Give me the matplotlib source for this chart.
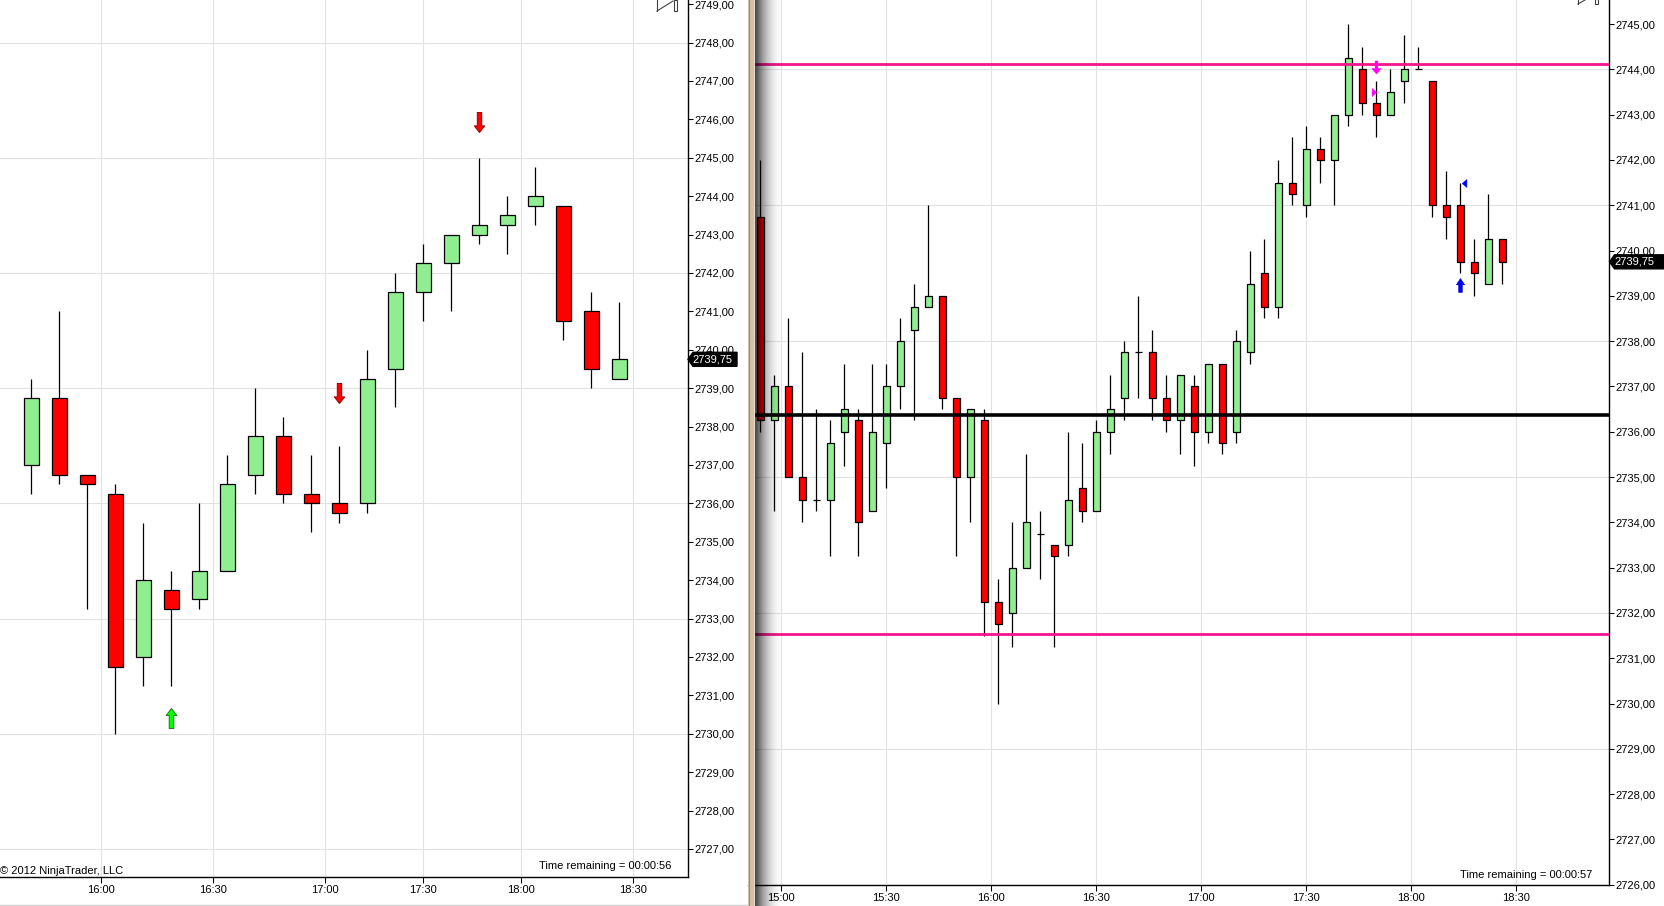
import matplotlib
matplotlib.use('Agg')
import matplotlib.pyplot as plt
import numpy as np
from matplotlib.path import Path
from matplotlib.patches import Rectangle, Polygon
from matplotlib.lines import Line2D
from matplotlib.transforms import IdentityTransform

plt.rcParams['font.family'] = ['Liberation Sans', 'DejaVu Sans']

# ---------------- data ----------------
left_open = [2737.0, 2738.75, 2736.75, 2736.25, 2732.0, 2733.75, 2733.5, 2734.25, 2736.75, 2737.75, 2736.25,
             2736.0, 2736.0, 2739.5, 2741.5, 2742.25, 2743.0, 2743.25, 2743.75, 2743.75, 2741.0, 2739.25]
left_high = [2739.25, 2741.0, 2736.75, 2736.5, 2735.5, 2734.25, 2736.0, 2737.25, 2739.0, 2738.25, 2737.25,
             2737.5, 2740.0, 2742.0, 2742.75, 2743.0, 2745.0, 2744.0, 2744.75, 2743.75, 2741.5, 2741.25]
left_low = [2736.25, 2736.5, 2733.25, 2730.0, 2731.25, 2731.25, 2733.25, 2734.25, 2736.25, 2736.0, 2735.25,
            2735.5, 2735.75, 2738.5, 2740.75, 2741.0, 2742.75, 2742.5, 2743.25, 2740.25, 2739.0, 2739.25]
left_close = [2738.75, 2736.75, 2736.5, 2731.75, 2734.0, 2733.25, 2734.25, 2736.5, 2737.75, 2736.25, 2736.0,
              2735.75, 2739.25, 2741.5, 2742.25, 2743.0, 2743.25, 2743.5, 2744.0, 2740.75, 2739.5, 2739.75]

right_open = [2740.75, 2736.25, 2737.0, 2735.0, 2734.5, 2734.5, 2736.0, 2736.25, 2734.25, 2735.75,
              2737.0, 2738.25, 2738.75, 2739.0, 2736.75, 2735.0, 2736.25, 2732.25, 2732.0, 2733.0,
              2733.75, 2733.5, 2733.5, 2734.75, 2734.25, 2736.0, 2736.75, 2737.75, 2737.75, 2736.75,
              2736.25, 2737.0, 2736.0, 2737.5, 2736.0, 2737.75, 2739.5, 2738.75, 2741.5, 2741.0,
              2742.25, 2742.0, 2743.0, 2744.0, 2743.25, 2743.0, 2743.75, 2744.0, 2743.75, 2741.0,
              2741.0, 2739.75, 2739.25, 2740.25]
right_high = [2742.0, 2737.25, 2738.5, 2737.75, 2736.5, 2736.25, 2737.5, 2736.5, 2737.5, 2737.5,
              2738.5, 2739.25, 2741.0, 2739.0, 2736.75, 2736.5, 2736.5, 2732.75, 2734.0, 2735.5,
              2734.25, 2733.5, 2736.0, 2735.75, 2736.25, 2737.25, 2738.0, 2739.0, 2738.25, 2737.25,
              2737.25, 2737.25, 2737.5, 2737.5, 2738.25, 2740.0, 2740.25, 2742.0, 2742.5, 2742.75,
              2742.5, 2743.0, 2745.0, 2744.5, 2743.75, 2744.0, 2744.75, 2744.5, 2743.75, 2741.75,
              2741.5, 2740.25, 2741.25, 2740.25]
right_low = [2736.0, 2734.25, 2735.0, 2734.0, 2734.25, 2733.25, 2735.25, 2733.25, 2734.25, 2734.75,
             2736.5, 2736.25, 2738.75, 2736.5, 2733.25, 2734.0, 2731.5, 2730.0, 2731.25, 2733.0,
             2732.75, 2731.25, 2733.25, 2734.0, 2734.25, 2735.5, 2736.25, 2736.75, 2736.25, 2736.0,
             2735.5, 2735.25, 2735.75, 2735.5, 2735.75, 2737.5, 2738.5, 2738.5, 2741.0, 2740.75,
             2741.5, 2741.0, 2742.75, 2743.0, 2742.5, 2743.0, 2743.25, 2744.0, 2740.75, 2740.25,
             2739.5, 2739.0, 2739.25, 2739.25]
right_close = [2736.25, 2737.0, 2735.0, 2734.5, 2734.5, 2735.75, 2736.5, 2734.0, 2736.0, 2737.0,
               2738.0, 2738.75, 2739.0, 2736.75, 2735.0, 2736.5, 2732.25, 2731.75, 2733.0, 2734.0,
               2733.75, 2733.25, 2734.5, 2734.25, 2736.0, 2736.5, 2737.75, 2737.75, 2736.75, 2736.25,
               2737.25, 2736.0, 2737.5, 2735.75, 2738.0, 2739.25, 2738.75, 2741.5, 2741.25, 2742.25,
               2742.0, 2743.0, 2744.25, 2743.25, 2743.0, 2743.5, 2744.0, 2744.0, 2741.0, 2740.75,
               2739.75, 2739.5, 2740.25, 2739.75]

left_tick_pos = [2.49, 6.49, 10.49, 13.99, 17.49, 21.49]
left_tick_labels = ['16:00', '16:30', '17:00', '17:30', '18:00', '18:30']
right_tick_pos = [1.5, 9.0, 16.5, 24.0, 31.5, 39.0, 46.5, 54.0]
right_tick_labels = ['15:00', '15:30', '16:00', '16:30', '17:00', '17:30', '18:00', '18:30']

left_yticks = list(range(2727, 2750))
left_ygrid = list(range(2727, 2750, 3))
right_yticks = list(range(2726, 2746))
right_ygrid = list(range(2726, 2746, 3))

right_hlines_pink = [2744.11, 2731.53]
right_hline_black = 2736.36
last_price = 2739.75

# signal markers (bar index, price)
left_up_green = (5, 2730.41)
left_down_red = [(11, 2738.87), (16, 2745.94)]
right_down_magenta = (44, 2744.06)
right_tri_magenta = (43.82, 2743.49)
right_up_blue = (50, 2739.24)
right_tri_blue = (50.26, 2741.49)

FS = 8.0

# ---------------- figure ----------------
W, H = 1664, 906
fig = plt.figure(figsize=(W / 100, H / 100), dpi=100)
fig.patch.set_facecolor('white')

axL = fig.add_axes([0, (H - 877.3) / H, 687.7 / W, 877.3 / H])
axR = fig.add_axes([748 / W, (H - 885.3) / H, (1608.5 - 748) / W, 885.3 / H])

GREEN = '#90EE90'
RED = '#FF0000'
GRID = '#E2E2E2'


def draw_candles(ax, o, h, l, c, width):
    o = np.array(o); h = np.array(h); l = np.array(l); c = np.array(c)
    x = np.arange(len(o))
    ax.vlines(x, l, h, color='black', lw=0.9, zorder=2)
    up = c > o
    dn = c < o
    dj = c == o
    ax.bar(x[up], (c - o)[up], bottom=o[up], width=width, color=GREEN,
           edgecolor='black', lw=0.9, zorder=3)
    ax.bar(x[dn], (o - c)[dn], bottom=c[dn], width=width, color=RED,
           edgecolor='black', lw=0.9, zorder=3)
    ax.hlines(c[dj], x[dj] - width / 2, x[dj] + width / 2, color='black', lw=0.9, zorder=3)


def style_axis(ax, yticks, ygrid, xticks, xlabels, xlim, ylim, xpad):
    ax.set_xlim(*xlim)
    ax.set_ylim(*ylim)
    for g in ygrid:
        ax.axhline(g, color=GRID, lw=0.8, zorder=0)
    for g in xticks:
        ax.axvline(g, color=GRID, lw=0.8, zorder=0)
    ax.yaxis.tick_right()
    ax.set_yticks(yticks)
    ax.set_yticklabels([f"{v:.2f}".replace('.', ',') for v in yticks])
    ax.set_xticks(xticks)
    ax.set_xticklabels(xlabels)
    ax.tick_params(axis='y', direction='out', length=3.8, width=0.75, pad=1.2,
                   labelsize=FS, colors='black')
    ax.tick_params(axis='x', direction='out', length=4.0, width=0.75, pad=xpad,
                   labelsize=FS, colors='black')
    for s in ['left', 'top']:
        ax.spines[s].set_visible(False)
    for s in ['right', 'bottom']:
        ax.spines[s].set_linewidth(1.0)
        ax.spines[s].set_color('black')
    ax.set_facecolor('white')


draw_candles(axL, left_open, left_high, left_low, left_close, 0.55)
style_axis(axL, left_yticks, left_ygrid, left_tick_pos, left_tick_labels,
           (-31.3 / 28, (687.7 - 31.3) / 28),
           (2746 - (877.3 - 119.3) / 38.4, 2746 + 119.3 / 38.4), 1.3)

draw_candles(axR, right_open, right_high, right_low, right_close, 0.5)
style_axis(axR, right_yticks, right_ygrid, right_tick_pos, right_tick_labels,
           ((748 - 760.3) / 14, (1608.5 - 760.3) / 14),
           (2745 - (885.3 - 24) / 45.3, 2745 + 24 / 45.3), 1.6)

for v in right_hlines_pink:
    axR.axhline(v, color='#F5148C', lw=2.0, zorder=4)
axR.axhline(right_hline_black, color='black', lw=2.6, zorder=4)


# ---------------- markers ----------------
def arrow(hw, sw, hh, down=False):
    verts = [(-sw, -0.5), (sw, -0.5), (sw, 0.5 - hh), (hw, 0.5 - hh), (0, 0.5),
             (-hw, 0.5 - hh), (-sw, 0.5 - hh), (-sw, -0.5)]
    if down:
        verts = [(x, -y) for x, y in verts]
    codes = [Path.MOVETO] + [Path.LINETO] * 6 + [Path.CLOSEPOLY]
    return Path(verts, codes)


def tri(right=True):
    if right:
        verts = [(-0.3, -0.5), (0.3, 0.0), (-0.3, 0.5), (-0.3, -0.5)]
    else:
        verts = [(0.3, -0.5), (-0.3, 0.0), (0.3, 0.5), (0.3, -0.5)]
    return Path(verts, [Path.MOVETO, Path.LINETO, Path.LINETO, Path.CLOSEPOLY])


up_big = arrow(0.27, 0.115, 0.35)
dn_big = arrow(0.26, 0.11, 0.33, down=True)
axL.plot(*left_up_green, marker=up_big, ms=14.4, mfc='#00FF00', mec='#1E7A1E', mew=0.7,
         ls='none', zorder=5)
for (xx, yy) in left_down_red:
    axL.plot(xx, yy, marker=dn_big, ms=14.4, mfc='#FF0000', mec='#9A0000', mew=0.7,
             ls='none', zorder=5)

axR.plot(*right_down_magenta, marker=arrow(0.36, 0.11, 0.42, down=True), ms=9.4,
         mfc='#FF00FF', mec='#FF00FF', mew=0.3, ls='none', zorder=5)
axR.plot(*right_tri_magenta, marker=tri(True), ms=5.8, mfc='#FF00FF', mec='#FF00FF',
         mew=0.3, ls='none', zorder=5)
axR.plot(*right_up_blue, marker=arrow(0.3, 0.13, 0.45), ms=10.0, mfc='#0000FF',
         mec='#0000C8', mew=0.4, ls='none', zorder=5)
axR.plot(*right_tri_blue, marker=tri(False), ms=5.8, mfc='#0000FF', mec='#0000FF',
         mew=0.3, ls='none', zorder=5)


# ---------------- price labels ----------------
def price_tag(ax, price, x_tip, x_end, text_x):
    yd = ax.transData.transform((0, price))[1]
    hh = 7
    poly = Polygon([(x_tip, yd), (x_tip + 5, yd + hh), (x_end, yd + hh),
                    (x_end, yd - hh), (x_tip + 5, yd - hh)], closed=True,
                   facecolor='black', edgecolor='black', transform=IdentityTransform(),
                   zorder=10)
    fig.add_artist(poly)
    fig.text(text_x / W, yd / H, f"{price:.2f}".replace('.', ','), color='white',
             fontsize=FS, ha='left', va='center', zorder=11)


price_tag(axL, last_price, 688, 737, 692)
price_tag(axR, last_price, 1609.5, 1664, 1614)

# ---------------- texts ----------------
fig.text(0 / W, 1 - 871 / H, '© 2012 NinjaTrader, LLC', fontsize=FS, ha='left',
         va='center', color='black')
fig.text(671 / W, 1 - 866 / H, 'Time remaining = 00:00:56', fontsize=FS, ha='right',
         va='center', color='black')
fig.text(1592 / W, 1 - 874.5 / H, 'Time remaining = 00:00:57', fontsize=FS, ha='right',
         va='center', color='black')


def fline(xs, ys, **kw):
    fig.add_artist(Line2D([x / W for x in xs], [1 - y / H for y in ys], **kw))


# top-right "scroll to end" icons (partly cut off at the top)
fline([657, 657], [0, 11], color='#404040', lw=0.8)
fline([657, 673], [11, 1], color='#404040', lw=0.8)
fig.add_artist(Rectangle((674 / W, 1 - 11 / H), 3 / W, 11 / H, fill=False,
                         edgecolor='#404040', lw=0.8))
fline([1578, 1578], [0, 4], color='#404040', lw=0.8)
fline([1578, 1585], [4, 0], color='#404040', lw=0.8)
fig.add_artist(Rectangle((1595 / W, 1 - 3.5 / H), 3 / W, 4 / H, fill=False,
                         edgecolor='#404040', lw=0.8))

# bottom edge line
fline([0, 748], [904.5, 904.5], color='#D0D0D0', lw=1.0)

# ---------------- divider and shadow ----------------
axSh = fig.add_axes([755 / W, 0, 30 / W, 1])
t = np.linspace(0, 1, 60)
alpha = 0.75 * (1 - t) ** 2.2
rgba = np.zeros((1, 60, 4))
rgba[..., 3] = alpha
axSh.imshow(rgba, aspect='auto', extent=(0, 1, 0, 1), interpolation='bilinear')
axSh.set_xlim(0, 1)
axSh.set_ylim(0, 1)
axSh.axis('off')

fig.add_artist(Rectangle((748 / W, 0), 7 / W, 1, facecolor='#D6BFA8', edgecolor='none',
                         zorder=20))
fline([748.5, 748.5], [0, 906], color='#8C8C8C', lw=0.8, zorder=21)
fline([754, 754], [0, 906], color='#E8DCD0', lw=0.8, zorder=21)

fig.savefig('out.png', dpi=100, facecolor='white')
